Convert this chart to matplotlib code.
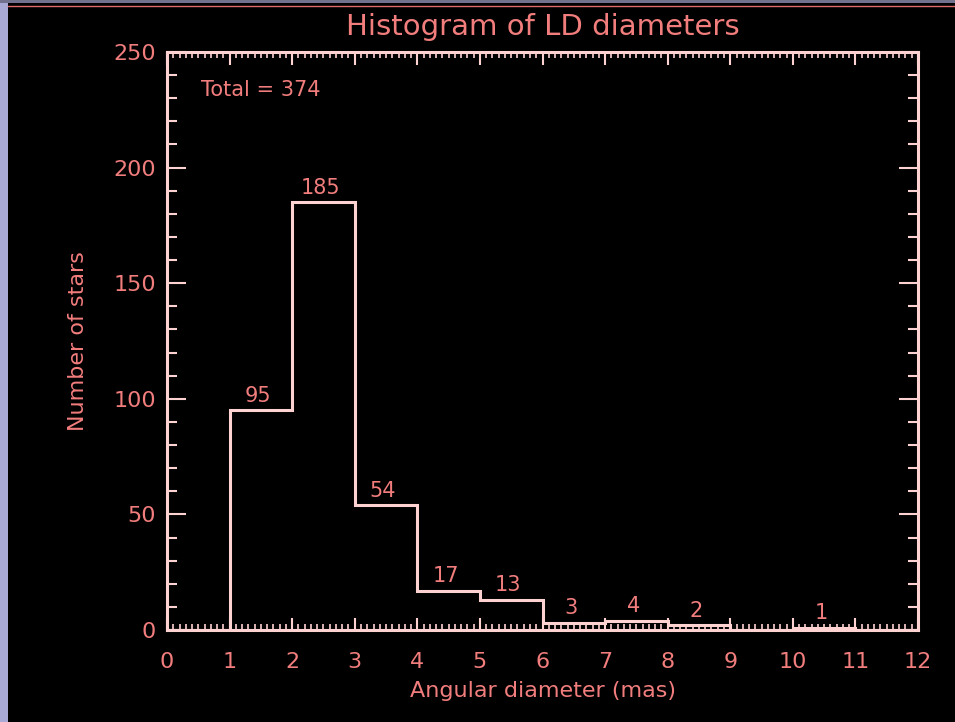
import matplotlib
matplotlib.use("Agg")
import matplotlib.pyplot as plt
from matplotlib.patches import Rectangle
from matplotlib.lines import Line2D
from matplotlib.ticker import MultipleLocator
import numpy as np

# ---- data ----
bin_edges = [0, 1, 2, 3, 4, 5, 6, 7, 8, 9, 10, 11, 12]
counts = [0, 95, 185, 54, 17, 13, 3, 4, 2, 0, 1, 0]
label_bins = [1, 2, 3, 4, 5, 6, 7, 8, 10]
label_counts = [95, 185, 54, 17, 13, 3, 4, 2, 1]
x_ticks = [0, 1, 2, 3, 4, 5, 6, 7, 8, 9, 10, 11, 12]
y_ticks = [0, 50, 100, 150, 200, 250]
total = 374

TXT = "#f27d7d"
LINE = "#ffd2d2"
FONT = "DejaVu Sans"

fig = plt.figure(figsize=(9.55, 7.22), dpi=100, facecolor="black")

# border decoration
fig.patches.append(Rectangle((0, 0), 8/955, 1, transform=fig.transFigure,
                             facecolor="#a9a9d6", edgecolor="none", zorder=0))
fig.patches.append(Rectangle((0, 1-3/722), 1, 3/722, transform=fig.transFigure,
                             facecolor="#72728f", edgecolor="none", zorder=0))
fig.lines.append(Line2D([8/955, 1], [1-5.5/722, 1-5.5/722], transform=fig.transFigure,
                        color="#e06a6a", lw=1.0))

ax = fig.add_axes([167/955, 1-630/722, (918-167)/955, (630-52)/722])
ax.set_facecolor("black")
ax.stairs(counts, bin_edges, fill=False, color=LINE, lw=2.2, baseline=0, zorder=3)

ax.set_xlim(0, 12)
ax.set_ylim(0, 250)
ax.set_xticks(x_ticks)
ax.set_yticks(y_ticks)
ax.xaxis.set_minor_locator(MultipleLocator(0.1))
ax.yaxis.set_minor_locator(MultipleLocator(10))
ax.tick_params(axis="x", which="major", direction="in", length=9, width=1.5,
               color=LINE, top=True, bottom=True, labelcolor=TXT, labelsize=16, pad=16)
ax.tick_params(axis="x", which="minor", direction="in", length=4, width=1.2,
               color=LINE, top=True, bottom=True)
ax.tick_params(axis="y", which="major", direction="in", length=14, width=1.5,
               color=LINE, left=True, right=True, labelcolor=TXT, labelsize=16, pad=8)
ax.tick_params(axis="y", which="minor", direction="in", length=7, width=1.5,
               color=LINE, left=True, right=True)
for lab in ax.get_xticklabels() + ax.get_yticklabels():
    lab.set_family(FONT)
for s in ax.spines.values():
    s.set_color(LINE)
    s.set_linewidth(2.2)

for b, c in zip(label_bins, label_counts):
    ax.text(b + 0.5 - 0.05, c + 2, str(c), color=TXT, fontsize=15, family=FONT,
            ha="center", va="bottom", zorder=4)

ax.text(0.045, 0.935, f"Total = {total}", transform=ax.transAxes, color=TXT,
        fontsize=15, family=FONT, ha="left", va="center")

ax.set_xlabel("Angular diameter (mas)", color=TXT, fontsize=16, family=FONT, labelpad=6)
ax.set_ylabel("Number of stars", color=TXT, fontsize=16, family=FONT, labelpad=18)
fig.text(543/955, 1-27/722, "Histogram of LD diameters", color=TXT, fontsize=21,
         family=FONT, ha="center", va="center")

fig.savefig("out.png", dpi=100, facecolor=fig.get_facecolor())
